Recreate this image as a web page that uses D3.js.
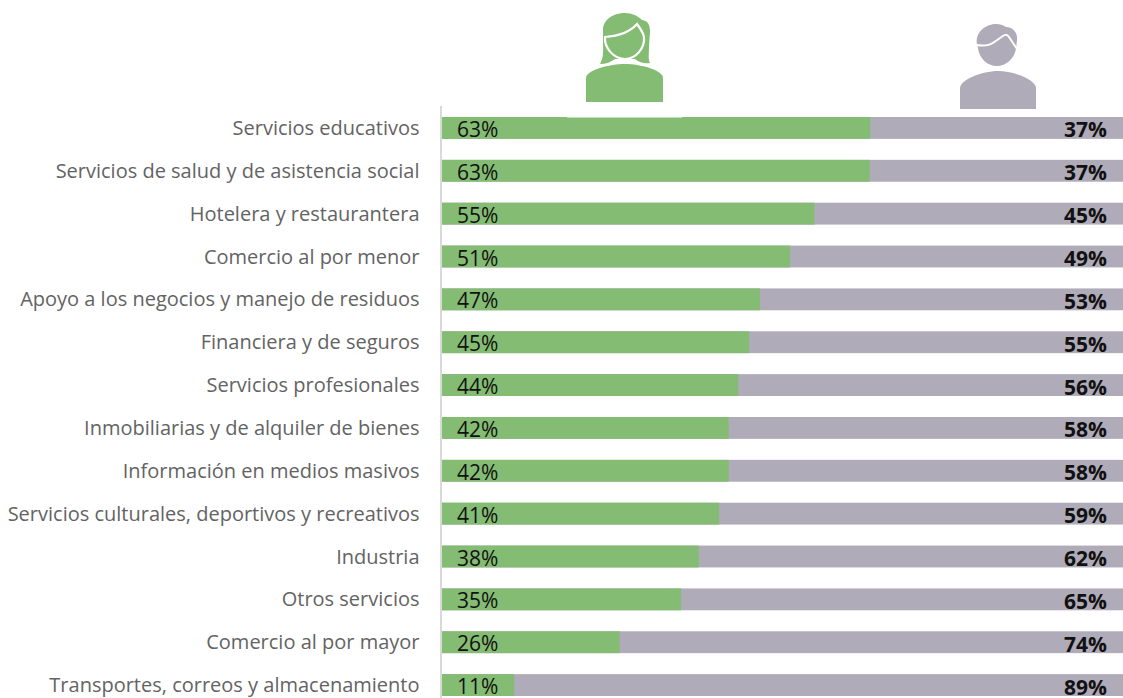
<!DOCTYPE html>
<html>
<head>
<meta charset="UTF-8" />
<title>Ocupados por sector y sexo</title>
<style>
    body { margin: 0; padding: 0; background: #fff; }
    svg { display: block; }
    text { font-family: "Open Sans", sans-serif; }
</style>
</head>
<body>
<svg width="1123" height="698"></svg>
<script src="https://d3js.org/d3.v7.min.js"></script>
<script>
    const categories = [
        "Servicios educativos",
        "Servicios de salud y de asistencia social",
        "Hotelera y restaurantera",
        "Comercio al por menor",
        "Apoyo a los negocios y manejo de residuos",
        "Financiera y de seguros",
        "Servicios profesionales",
        "Inmobiliarias y de alquiler de bienes",
        "Información en medios masivos",
        "Servicios culturales, deportivos y recreativos",
        "Industria",
        "Otros servicios",
        "Comercio al por mayor",
        "Transportes, correos y almacenamiento"
    ];
    // bar lengths, labels are the printed percentages
    const women = [62.9, 62.8, 54.7, 51.1, 46.7, 45.1, 43.5, 42.1, 42.1, 40.7, 37.7, 35.1, 26.1, 10.6];
    const womenLabels = [63, 63, 55, 51, 47, 45, 44, 42, 42, 41, 38, 35, 26, 11];
    const menLabels = [37, 37, 45, 49, 53, 55, 56, 58, 58, 59, 62, 65, 74, 89];

    const green = "#85BC74", grey = "#AFABB8", axisGrey = "#D9D9D9";

    const svg = d3.select("svg");

    const x = d3.scaleLinear().domain([0, 100]).range([442, 1123]);
    const y = d3.scaleBand().domain(categories).range([106.5, 706.5]).paddingInner(0.49).paddingOuter(0.245);

    const rows = svg.selectAll(".row")
        .data(categories)
        .enter().append("g")
        .attr("class", "row");

    rows.append("rect")
        .attr("x", x(0))
        .attr("y", d => y(d))
        .attr("width", x(100) - x(0))
        .attr("height", y.bandwidth())
        .attr("fill", grey);

    rows.append("rect")
        .attr("x", x(0))
        .attr("y", d => y(d))
        .attr("width", (d, i) => x(women[i]) - x(0))
        .attr("height", y.bandwidth())
        .attr("fill", green);

    rows.append("text")
        .attr("x", 419.5)
        .attr("y", d => y(d) + y.bandwidth() / 2 + 7)
        .attr("text-anchor", "end")
        .attr("font-size", 20)
        .attr("fill", "#636363")
        .text(d => d);

    rows.append("text")
        .attr("x", 457)
        .attr("y", d => y(d) + y.bandwidth() / 2 + 9)
        .attr("font-size", 21)
        .attr("fill", "#111")
        .text((d, i) => womenLabels[i] + "%");

    rows.append("text")
        .attr("x", 1107)
        .attr("y", d => y(d) + y.bandwidth() / 2 + 9.5)
        .attr("text-anchor", "end")
        .attr("font-size", 21)
        .attr("font-weight", 700)
        .attr("fill", "#111")
        .text((d, i) => menLabels[i] + "%");

    // vertical axis line
    svg.append("line")
        .attr("x1", 441).attr("x2", 441)
        .attr("y1", 106).attr("y2", 698)
        .attr("stroke", axisGrey)
        .attr("stroke-width", 2);

    // woman icon
    const womanIcon = svg.append("g");
    womanIcon.append("rect")
        .attr("x", 567).attr("y", 100).attr("width", 115).attr("height", 17.5)
        .attr("fill", "#fff");
    womanIcon.append("path")
        .attr("fill", green)
        .attr("d", "M600 64 C604 57 603 50 603 42 L603 30 C603 19 614 13 625 13 C632 13 638 16 642 20 C649 21 650 26 650 32 L649 46 C649 54 648 59 650 63 C645 64 640 63 635 59 L615 59 C611 62 606 64 600 64 Z");
    womanIcon.append("path")
        .attr("fill", green)
        .attr("stroke", "#fff")
        .attr("stroke-width", 2.2)
        .attr("d", "M605 37 C618 36 630 32 637 24 C640 28 643 32 644 37 C645 48 636 59 625 59 C614 59 604 48 605 37 Z");
    womanIcon.append("path")
        .attr("fill", green)
        .attr("d", "M586 102 L586 78 C586 70 610 64 625 64 C640 64 663 70 663 78 L663 102 Z");

    // man icon
    const manIcon = svg.append("g");
    manIcon.append("path")
        .attr("fill", grey)
        .attr("d", "M977 44 C975 33 985 24 996 24 C1000 24 1003 25 1006 27 C1013 27 1018 33 1017 40 L1016 49 C1014 59 1006 66 997 66 C987 66 979 58 978 48 Z");
    manIcon.append("path")
        .attr("fill", "none")
        .attr("stroke", "#fff")
        .attr("stroke-width", 2)
        .attr("d", "M976 45 C990 47 993 43 1000 38 C1005 34 1007 34 1009 37 L1017 49");
    manIcon.append("path")
        .attr("fill", grey)
        .attr("d", "M960 109 L960 88 C960 80 982 71 998 71 C1014 71 1036 80 1036 88 L1036 109 Z");
</script>
</body>
</html>
